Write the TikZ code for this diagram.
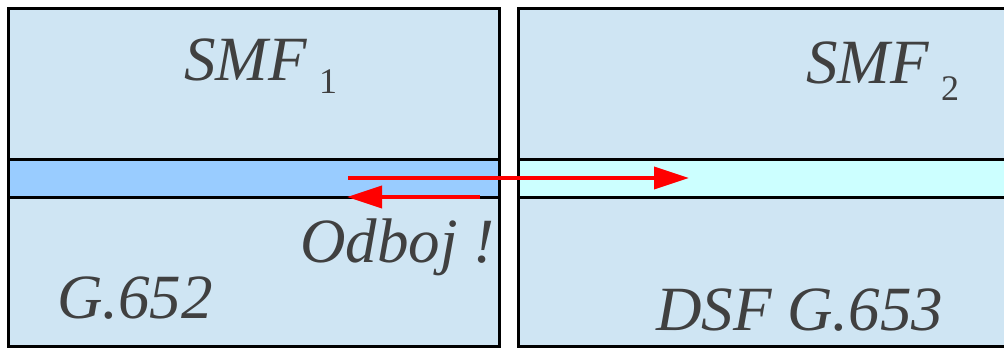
\documentclass[tikz,border=0pt]{standalone}
\usepackage{fontspec}
\setmainfont{Liberation Serif}
\usetikzlibrary{arrows.meta}
\definecolor{blockfill}{RGB}{207,229,243}
\definecolor{coreL}{RGB}{153,204,255}
\definecolor{coreR}{RGB}{204,255,255}
\definecolor{txt}{RGB}{64,64,64}
\tikzset{
  border/.style={draw=black,line width=3pt},
  lbl/.style={anchor=base west,inner sep=0pt,text=txt,font=\fontsize{63}{65}\selectfont\itshape},
  sub/.style={anchor=base west,inner sep=0pt,text=txt,font=\fontsize{36}{38}\selectfont},
  ray/.style={draw=red,line width=3.8pt,-{Triangle[length=35pt,width=22pt]}}
}
\begin{document}
\begin{tikzpicture}[x=1pt,y=-1pt]
\useasboundingbox (0,0) rectangle (1004,349);
\begin{scope}
\clip (0,0) rectangle (1004,349);
% left block
\fill[blockfill] (8.5,8.5) rectangle (499.5,346.5);
\fill[coreL] (8.5,159) rectangle (499.5,197);
\draw[border] (8.5,8.5) rectangle (499.5,346.5);
\draw[border] (8.5,159) -- (499.5,159);
\draw[border] (8.5,197) -- (499.5,197);
% right block
\fill[blockfill] (518.5,8.5) rectangle (1012,346.5);
\fill[coreR] (518.5,159) rectangle (1012,197);
\draw[border] (1012,8.5) -- (518.5,8.5) -- (518.5,346.5) -- (1012,346.5);
\draw[border] (518.5,159) -- (1012,159);
\draw[border] (518.5,197) -- (1012,197);
\end{scope}
% labels
\node[lbl] (smf1) at (184,80) {SMF};
\node[sub] (s1) at (319,93) {1};
\node[lbl] (smf2) at (806,83) {SMF};
\node[sub] (s2) at (941,100) {2};
\node[lbl] (odboj) at (300,262) {Odboj !};
\node[lbl] (g652) at (57,318) {G.652};
\node[lbl] (g653) at (656,330) {DSF G.653};
% rays
\coordinate (a1) at (348,178);
\coordinate (a2) at (689,178);
\coordinate (b1) at (480,197);
\coordinate (b2) at (347,197);
\draw[ray] (a1) -- (a2);
\draw[ray] (b1) -- (b2);
\end{tikzpicture}
\end{document}
